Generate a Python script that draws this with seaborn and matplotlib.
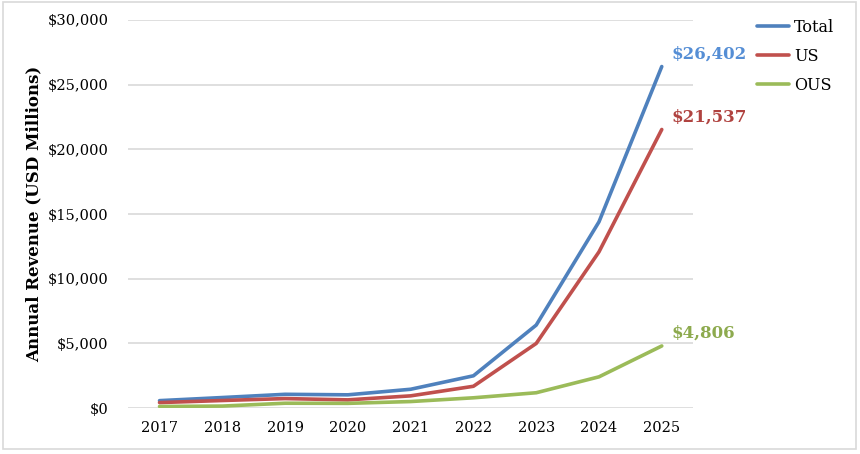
import pandas as pd
import matplotlib
matplotlib.use("Agg")
import matplotlib.pyplot as plt
import seaborn as sns
from matplotlib.patches import Rectangle
from matplotlib.lines import Line2D
from matplotlib.ticker import FuncFormatter

# annual revenue, USD millions
years = ["2017", "2018", "2019", "2020", "2021", "2022", "2023", "2024", "2025"]
total = [580, 820, 1070, 1030, 1460, 2500, 6420, 14400, 26402]
us = [430, 590, 740, 640, 950, 1690, 5000, 12080, 21537]
ous = [130, 160, 380, 370, 510, 800, 1190, 2420, 4806]
series = ["Total", "US", "OUS"]
colors = ["#4F81BD", "#C0504D", "#9BBB59"]
label_colors = ["#558ED5", "#B04340", "#8DAA4E"]

df = pd.DataFrame({
    "Year": years * 3,
    "Revenue": total + us + ous,
    "Series": ["Total"] * 9 + ["US"] * 9 + ["OUS"] * 9,
})

sns.set_style("white")
plt.rcParams["font.family"] = ["DejaVu Serif"]
plt.rcParams["text.color"] = "black"
plt.rcParams["xtick.color"] = "black"
plt.rcParams["ytick.color"] = "black"
plt.rcParams["axes.labelcolor"] = "black"

fig = plt.figure(figsize=(8.6, 4.54), dpi=100)
ax = fig.add_axes([0.149, 0.101, 0.657, 0.855])

sns.lineplot(data=df, x="Year", y="Revenue", hue="Series", hue_order=series,
             palette=colors, linewidth=2.6, ax=ax, legend=False, sort=False)

ax.set_xlim(-0.5, 8.5)
ax.set_ylim(0, 30000)
ax.set_yticks(range(0, 30001, 5000))
ax.yaxis.set_major_formatter(FuncFormatter(lambda v, p: "${:,.0f}".format(v)))
ax.grid(axis="y", color="#D9D9D9", linewidth=1.2)
ax.set_axisbelow(True)
for s in ax.spines.values():
    s.set_visible(False)
ax.tick_params(axis="both", length=0, labelsize=10.5)
ax.tick_params(axis="y", pad=14)
ax.tick_params(axis="x", pad=9)
ax.set_xlabel("")
ax.set_ylabel("Annual Revenue (USD Millions)", fontsize=12, fontweight="bold", labelpad=4)

# end-of-line value labels
last = [total[-1], us[-1], ous[-1]]
for val, c in zip(last, label_colors):
    ax.annotate("${:,}".format(val), xy=(8, val), xytext=(7, 9),
                textcoords="offset points", color=c, fontsize=12,
                fontweight="bold", va="center", ha="left")

handles = [Line2D([0], [0], color=c, linewidth=2.6) for c in colors]
fig.legend(handles, series, loc="upper left", bbox_to_anchor=(0.864, 0.99),
           frameon=False, fontsize=11.5, handlelength=2.0, handletextpad=0.3,
           labelspacing=0.75)

fig.patches.append(Rectangle((0.003, 0.012), 0.992, 0.984, transform=fig.transFigure,
                             fill=False, edgecolor="#D9D9D9", linewidth=1.2))

fig.savefig("out.png", dpi=100)
